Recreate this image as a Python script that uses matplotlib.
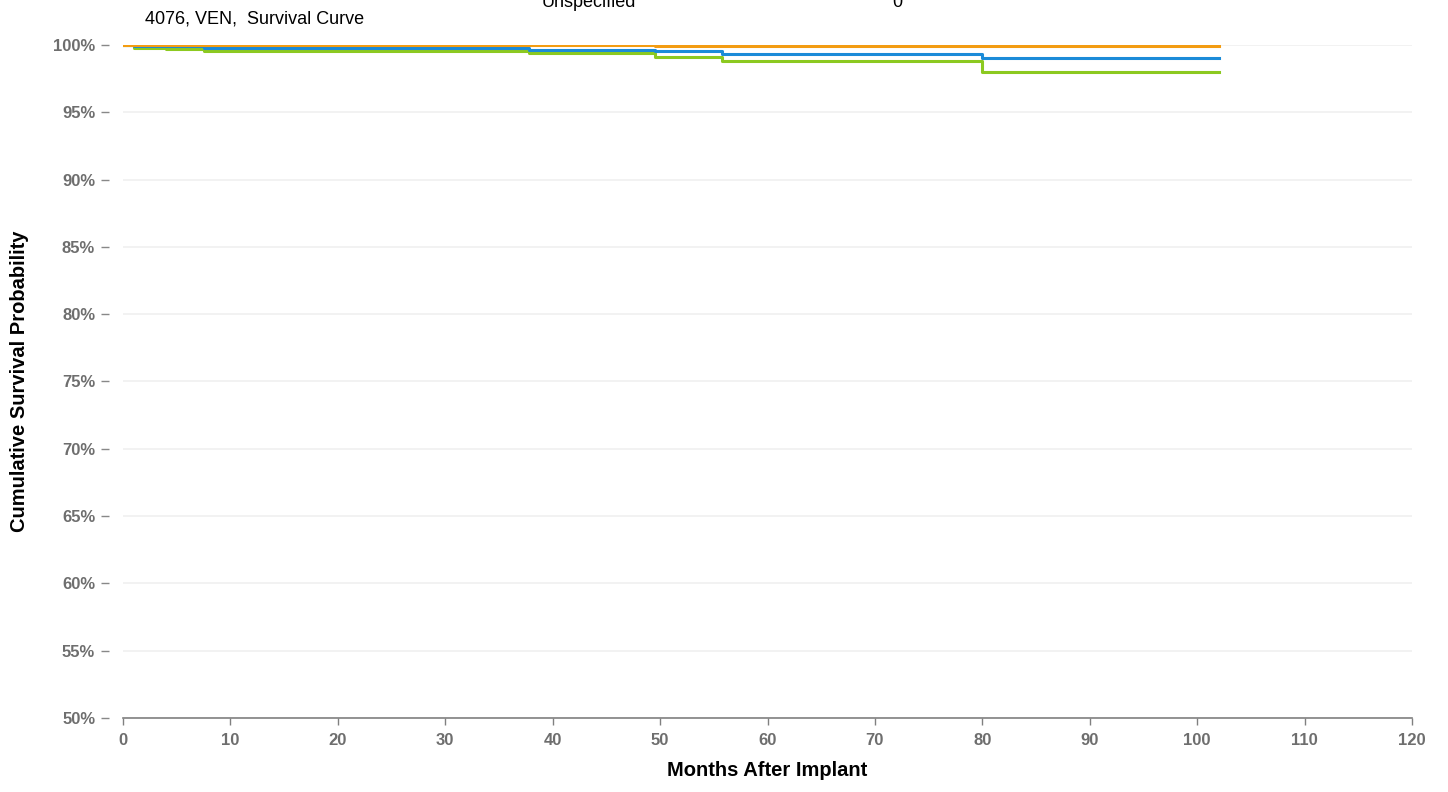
import matplotlib
matplotlib.use("Agg")
import matplotlib.pyplot as plt
from matplotlib.ticker import FuncFormatter

# survival curves (months, cumulative survival %)
orange_t = [0, 7.5, 49.5, 102]
orange_s = [100, 99.97, 99.94, 99.94]

blue_t = [0, 1, 7.5, 37.8, 49.5, 55.8, 80, 102]
blue_s = [100, 99.9, 99.79, 99.64, 99.54, 99.35, 99.0, 99.0]

green_t = [0, 1, 4, 7.5, 37.8, 49.5, 55.8, 80, 102]
green_s = [100, 99.8, 99.7, 99.54, 99.39, 99.09, 98.8, 98.0, 98.0]

x_ticks = list(range(0, 121, 10))
y_ticks = list(range(50, 101, 5))

title = "4076, VEN,  Survival Curve"
x_label = "Months After Implant"
y_label = "Cumulative Survival Probability"

plt.rcParams['font.family'] = ['Liberation Sans', 'DejaVu Sans']

fig = plt.figure(figsize=(14.48, 7.92), dpi=100)
ax = fig.add_axes([123 / 1448, 1 - 718 / 792, 1289 / 1448, 673 / 792])

ax.step(green_t, green_s, where='post', color='#8cc920', linewidth=2.2, zorder=3)
ax.step(blue_t, blue_s, where='post', color='#1b8bd8', linewidth=2.2, zorder=4)
ax.step(orange_t, orange_s, where='post', color='#f39c12', linewidth=2.2, zorder=5)

ax.set_xlim(0, 120)
ax.set_ylim(50, 100)
ax.set_xticks(x_ticks)
ax.set_yticks(y_ticks)
ax.yaxis.set_major_formatter(FuncFormatter(lambda v, p: "%d%%" % v))

ax.grid(axis='y', color='#f0f0f0', linewidth=1.2, zorder=0)
for s in ['top', 'right', 'left']:
    ax.spines[s].set_visible(False)
ax.spines['left'].set_position(('outward', 10))
ax.spines['bottom'].set_color('#808080')
ax.spines['bottom'].set_linewidth(1.2)

ax.tick_params(axis='y', length=6, width=1, color='#888888', pad=4,
               labelsize=12, labelcolor='#6e6e6e')
ax.tick_params(axis='x', length=5, width=1, color='#808080', pad=6,
               labelsize=12, labelcolor='#6e6e6e')
for lab in ax.get_xticklabels() + ax.get_yticklabels():
    lab.set_fontweight('bold')

ax.set_xlabel(x_label, fontsize=14.5, fontweight='bold', labelpad=9)
ax.set_ylabel(y_label, fontsize=14.5, fontweight='bold', labelpad=17)

fig.text(145 / 1448, 1 - 23 / 792, title, fontsize=13, ha='left', va='baseline')
fig.text(636 / 1448, 1 - 7 / 792, "Unspecified", fontsize=13, ha='right', va='baseline')
fig.text(897 / 1448, 1 - 7 / 792, "0", fontsize=13, ha='center', va='baseline')

fig.savefig("out.png", dpi=100)
